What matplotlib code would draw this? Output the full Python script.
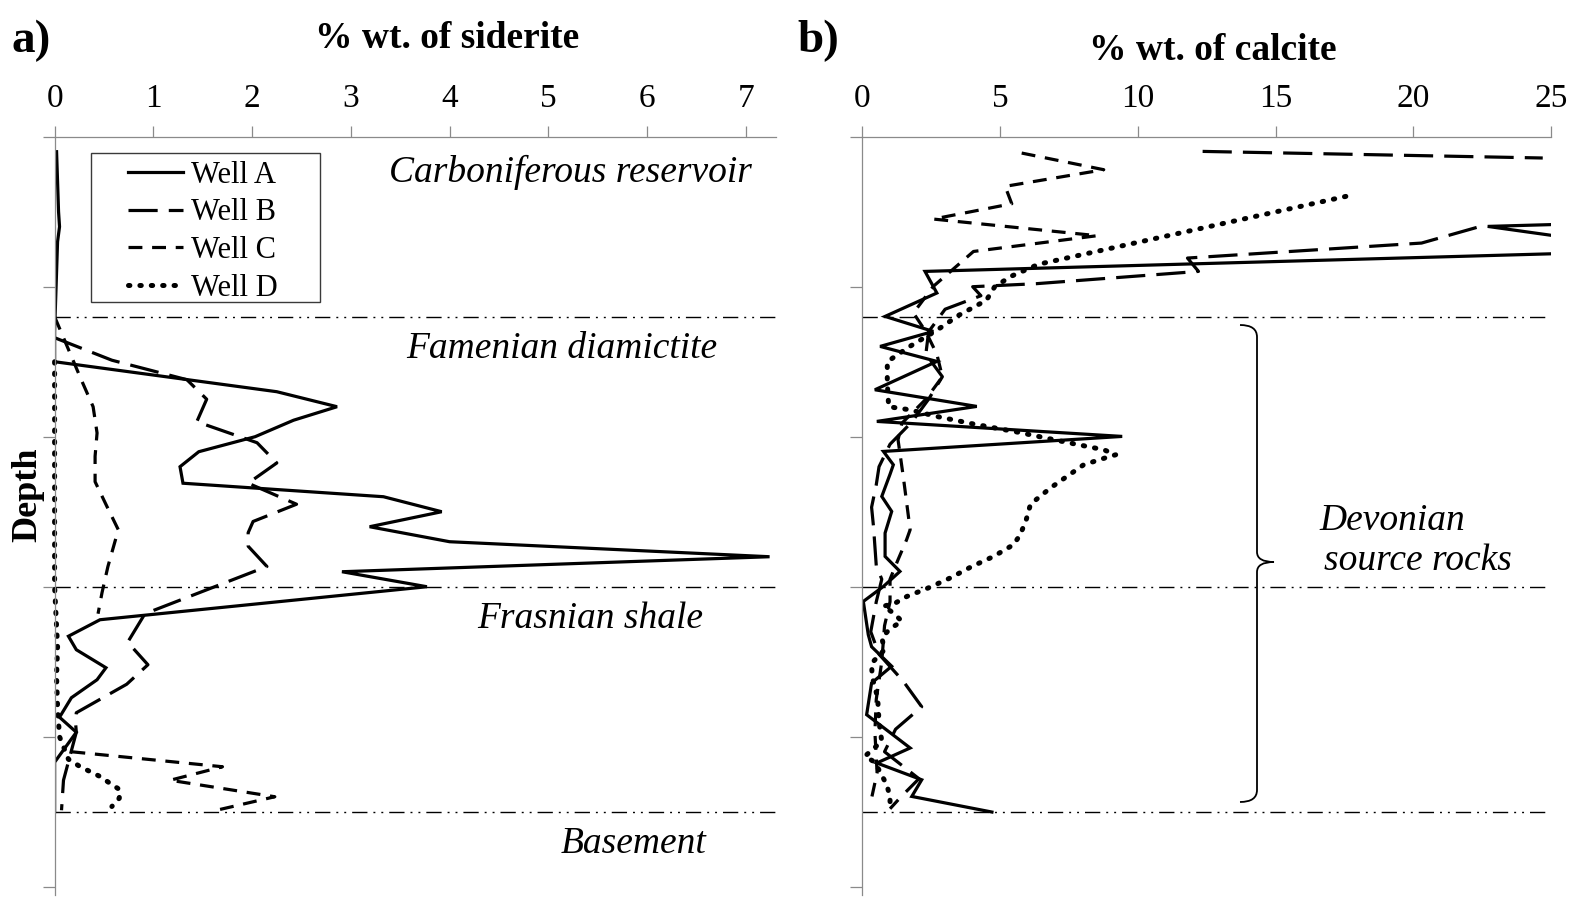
import numpy as np
import matplotlib
matplotlib.use("Agg")
import matplotlib.pyplot as plt
from matplotlib.lines import Line2D
from matplotlib.patches import Rectangle, PathPatch
from matplotlib.path import Path
from matplotlib.transforms import Affine2D

plt.rcParams["font.family"] = ["Liberation Serif", "DejaVu Serif"]
plt.rcParams["lines.scale_dashes"] = False

# --- siderite (% wt.) vs depth (relative units, 0 = top) ---
sid_a_depth = [0.10, 0.30, 0.50, 0.60, 0.70, 0.90, 1.10, 1.30, 1.50, 1.70, 1.80, 1.89,
               2.00, 2.10, 2.20, 2.31, 2.40, 2.50, 2.60, 2.70, 2.80, 2.90, 3.00, 3.22,
               3.33, 3.42, 3.54, 3.62, 3.74, 3.87, 3.97, 4.17, 4.50]
sid_a = [0.02, 0.03, 0.04, 0.05, 0.03, 0.02, 0.01, 0.00, 0.00, 2.25, 2.86, 2.42,
         2.03, 1.46, 1.27, 1.30, 3.33, 3.92, 3.19, 4.00, 7.24, 2.91, 3.77, 0.46,
         0.14, 0.22, 0.52, 0.43, 0.17, 0.05, 0.22, 0.00, 0.00]

sid_b_depth = [1.34, 1.49, 1.62, 1.75, 1.90, 2.04, 2.175, 2.31, 2.45, 2.565, 2.64, 2.73,
               2.865, 3.18, 3.37, 3.52, 3.65, 3.84, 3.89, 3.97, 4.29, 4.49]
sid_b = [0.00, 0.58, 1.34, 1.54, 1.44, 2.05, 2.25, 1.96, 2.45, 2.01, 1.96, 1.96,
         2.15, 0.915, 0.74, 0.945, 0.73, 0.22, 0.21, 0.22, 0.09, 0.07]

sid_c_depth = [1.20, 1.62, 1.80, 1.975, 2.13, 2.30, 2.465, 2.62, 2.865, 3.04, 3.18,
               np.nan, 4.10, 4.20, 4.29, 4.40, 4.49]
sid_c = [0.00, 0.27, 0.39, 0.43, 0.41, 0.41, 0.53, 0.645, 0.54, 0.48, 0.44,
         np.nan, 0.17, 1.70, 1.17, 2.23, 1.64]

sid_d_depth = [1.50, 2.00, 2.50, 3.00, 3.40, 3.60, 3.80, 4.00, 4.15, 4.20, 4.265,
               4.31, 4.353, 4.41, 4.465]
sid_d = [0.00, 0.00, 0.00, 0.00, 0.03, 0.02, 0.03, 0.05, 0.14, 0.26, 0.46,
         0.56, 0.66, 0.655, 0.58]

# --- calcite (% wt.) vs depth ---
cal_a_depth = [0.56, 0.598, 0.76, 0.898, 1.042, 1.198, 1.298, 1.398, 1.498, 1.687, 1.798,
               1.898, 1.998, 2.098, 2.187, 2.25, 2.398, 2.498, 2.642, 2.798, 2.898, 2.998,
               3.098, 3.32, 3.40, 3.53, 3.642, 3.853, 4.075, 4.175, 4.287, 4.398, 4.502]
cal_a = [30.0, 22.7, 29.0, 2.27, 2.7, 0.82, 2.57, 0.64, 2.7, 0.45, 4.15,
         0.52, 9.43, 0.76, 1.12, 1.0, 0.70, 1.06, 0.82, 0.82, 1.36, 0.76,
         0.03, 0.21, 0.33, 1.06, 0.33, 0.15, 1.73, 0.52, 2.15, 1.79, 4.7]

cal_b_depth = [0.098, 0.142, np.nan, 0.605, 0.709, 0.809, 0.898, 0.98, 1.0, 1.06, 1.15,
               1.3, 1.45, 1.6, 1.75, 1.9, 2.05, 2.2, 2.32, 2.47, 2.6, 2.73, 2.86, 2.95,
               3.1, 3.3, 3.45, 3.63, 3.8, 3.95, 4.1, 4.28, 4.4, 4.48]
cal_b = [12.35, 24.7, np.nan, 22.3, 20.3, 11.8, 12.2, 6.3, 4.0, 4.3, 3.0,
         2.4, 2.3, 2.9, 2.4, 1.8, 1.0, 0.6, 0.5, 0.33, 0.4, 0.45, 0.5, 0.7,
         0.5, 0.3, 0.6, 1.48, 2.15, 1.2, 0.8, 2.05, 1.4, 1.0]

cal_c_depth = [0.109, 0.22, 0.331, 0.447, 0.549, 0.66, 0.765, 0.998, 1.175, 1.3, 1.45,
               1.6, 1.75, 1.91, 2.02, 2.265, 2.62, 2.687, 2.82, 2.95, 3.1, 3.26, 3.5,
               3.75, 3.97, 4.24, 4.46]
cal_c = [5.78, 8.76, 5.18, 5.42, 2.57, 8.52, 4.03, 2.57, 1.85, 2.3, 2.7,
         2.9, 2.3, 1.43, 1.29, 1.48, 1.73, 1.6, 1.29, 1.0, 1.0, 0.8, 0.7,
         0.5, 0.45, 0.53, 0.27]

cal_d_depth = [0.398, 0.85, 0.93, 1.0, 1.09, 1.19, 1.29, 1.4, 1.5, 1.64, 1.8, 1.82,
               1.865, 1.913, 1.97, 2.038, 2.087, 2.12, 2.142, 2.187, 2.342, 2.45, 2.55,
               2.653, 2.72, 2.798, 2.865, 2.942, 3.008, 3.065, 3.11, 3.13, 3.175, 3.23,
               3.28, 3.34, 3.42, 3.51, 3.6, 3.74, 3.9, 4.03, 4.13, 4.17, 4.32, 4.4, 4.47]
cal_d = [17.55, 6.4, 5.4, 4.8, 4.5, 3.5, 2.7, 1.7, 0.9, 0.9, 0.95, 1.7,
         2.7, 3.97, 5.65, 7.43, 8.76, 9.2, 8.8, 8.03, 6.82, 6.1, 5.95,
         5.73, 5.48, 4.76, 3.97, 3.18, 2.39, 1.61, 1.18, 0.76, 1.12, 1.43,
         1.0, 0.7, 0.8, 0.33, 0.35, 0.55, 0.6, 0.7, 0.09, 0.45, 0.88, 1.0, 1.0]

boundaries = [1.2, 3.0, 4.5]
wells = ["Well A", "Well B", "Well C", "Well D"]

W, H = 1583, 898
fig = plt.figure(figsize=(W / 100, H / 100), dpi=100)
# pixel coordinates measured from the top-left corner
PX = Affine2D().scale(1 / W, -1 / H).translate(0, 1) + fig.transFigure

STYLE = {
    "Well A": dict(linestyle="-", lw=2.3),
    "Well B": dict(linestyle=(0, (21, 8)), lw=2.3),
    "Well C": dict(linestyle=(0, (10, 7)), lw=2.3),
    "Well D": dict(linestyle=(0, (1.0, 7.2)), lw=3.6, dash_capstyle="round"),
}
BOUND = dict(color="black", lw=1.0, linestyle=(0, (11, 4.3, 1.4, 4.3, 1.4, 4.3)))
AXC = "#8a8a8a"


def make_axes(left, right):
    top, bottom = 136.7, 895
    ax = fig.add_axes([left / W, 1 - bottom / H, (right - left) / W, (bottom - top) / H])
    ax.set_ylim(5.055, 0)
    for s in ("right", "bottom"):
        ax.spines[s].set_visible(False)
    for s in ("top", "left"):
        ax.spines[s].set_color(AXC)
        ax.spines[s].set_linewidth(0.9)
    ax.xaxis.tick_top()
    ax.tick_params(axis="x", direction="out", length=8, width=0.9, color=AXC,
                   labelsize=24, pad=8)
    ax.set_yticks(np.arange(0, 6))
    ax.tick_params(axis="y", direction="out", length=8.5, width=0.9, color=AXC,
                   labelleft=False)
    for b in boundaries:
        ax.axhline(b, **BOUND)
    return ax


def draw_wells(ax, series):
    for name, (depth, val) in zip(wells, series):
        # well D sits on the axis line, so keep its dots whole
        ax.plot(val, depth, color="black", solid_joinstyle="miter",
                clip_on=(name != "Well D"), **STYLE[name])


# (a) siderite
ax1 = make_axes(54.6, 775.5)
ax1.set_xlim(0, 7.3)
ax1.set_xticks(range(0, 8))
draw_wells(ax1, [(sid_a_depth, sid_a), (sid_b_depth, sid_b),
                 (sid_c_depth, sid_c), (sid_d_depth, sid_d)])

# (b) calcite
ax2 = make_axes(862.5, 1551)
ax2.set_xlim(0, 25)
ax2.set_xticks(range(0, 26, 5))
draw_wells(ax2, [(cal_a_depth, cal_a), (cal_b_depth, cal_b),
                 (cal_c_depth, cal_c), (cal_d_depth, cal_d)])

# panel letters and axis titles
fig.text(12, 52, "a)", transform=PX, fontsize=34, fontweight="bold", va="baseline")
fig.text(797, 52, "b)", transform=PX, fontsize=34, fontweight="bold", va="baseline")
fig.text(447, 48, "% wt. of siderite", transform=PX, fontsize=27, fontweight="bold",
         ha="center", va="baseline")
fig.text(1213, 60, "% wt. of calcite", transform=PX, fontsize=27, fontweight="bold",
         ha="center", va="baseline")
fig.text(28, 495, "Depth", transform=PX, fontsize=26, fontweight="bold",
         rotation=90, ha="center", va="center")

# formation names
lab = dict(transform=PX, fontsize=27, style="italic", va="baseline")
fig.text(752, 182, "Carboniferous reservoir", ha="right", **lab)
fig.text(562, 358, "Famenian diamictite", ha="center", **lab)
fig.text(590, 628, "Frasnian shale", ha="center", **lab)
fig.text(634, 853, "Basement", ha="center", **lab)
fig.text(1392, 530, "Devonian", ha="center", **lab)
fig.text(1418, 570, "source rocks", ha="center", **lab)

# curly brace marking the Devonian source rocks
xb, xv, xt = 1240, 1257, 1274
y0, ym, y1 = 325, 562, 802
verts = [(xb, y0), (xv, y0), (xv, y0 + 12),
         (xv, ym - 10), (xv, ym), (xt, ym),
         (xv, ym), (xv, ym + 10),
         (xv, y1 - 12), (xv, y1), (xb, y1)]
codes = [Path.MOVETO, Path.CURVE3, Path.CURVE3,
         Path.LINETO, Path.CURVE3, Path.CURVE3,
         Path.CURVE3, Path.CURVE3,
         Path.LINETO, Path.CURVE3, Path.CURVE3]
fig.add_artist(PathPatch(Path(verts, codes), transform=PX, fill=False,
                         edgecolor="black", lw=1.3))

# legend drawn by hand in a plain box
fig.add_artist(Rectangle((90.7, 152.7), 229.6, 149.6, transform=PX, fill=False,
                         edgecolor="#3a3a3a", lw=1.0))
for i, name in enumerate(wells):
    y = 172 + 37.5 * i
    fig.add_artist(Line2D([128, 183], [y, y], transform=PX, color="black",
                          **STYLE[name]))
    fig.text(191, y, name, transform=PX, fontsize=22, va="center_baseline")

fig.savefig("out.png", dpi=100)
